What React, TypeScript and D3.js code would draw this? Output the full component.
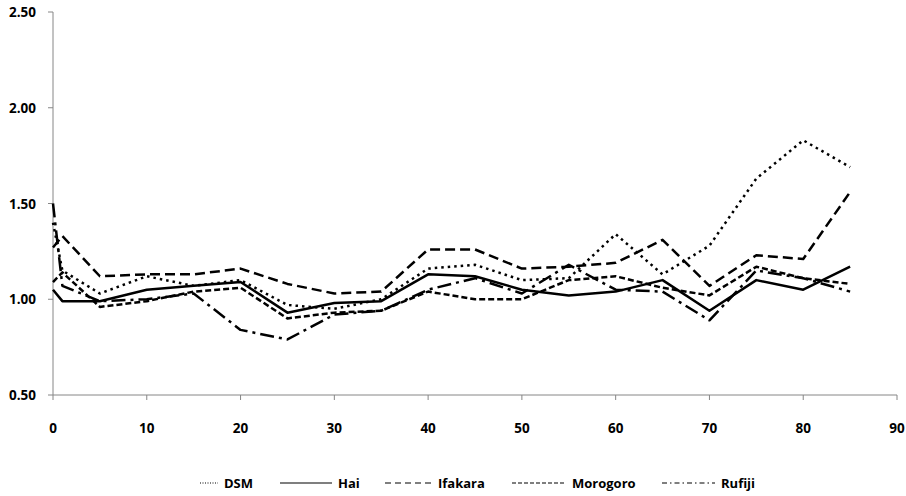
import React from "react";
import * as d3 from "d3";

// Age group start (years)
const ages = [0, 1, 5, 10, 15, 20, 25, 30, 35, 40, 45, 50, 55, 60, 65, 70, 75, 80, 85];

const dsm = [1.4, 1.15, 1.03, 1.12, 1.07, 1.1, 0.97, 0.95, 1.0, 1.16, 1.18, 1.1, 1.11, 1.34, 1.13, 1.28, 1.63, 1.83, 1.69];
const hai = [1.05, 0.99, 0.99, 1.05, 1.07, 1.09, 0.93, 0.98, 0.99, 1.13, 1.12, 1.05, 1.02, 1.04, 1.1, 0.94, 1.1, 1.05, 1.17];
const ifakara = [1.27, 1.33, 1.12, 1.13, 1.13, 1.16, 1.08, 1.03, 1.04, 1.26, 1.26, 1.16, 1.17, 1.19, 1.31, 1.07, 1.23, 1.21, 1.56];
const morogoro = [1.09, 1.14, 0.96, 0.99, 1.04, 1.06, 0.9, 0.93, 0.94, 1.04, 1.0, 1.0, 1.1, 1.12, 1.06, 1.02, 1.17, 1.11, 1.08];
const rufiji = [1.5, 1.07, 0.99, 1.0, 1.03, 0.84, 0.79, 0.92, 0.94, 1.05, 1.11, 1.03, 1.18, 1.05, 1.04, 0.89, 1.15, 1.11, 1.04];

const xTicks = [0, 10, 20, 30, 40, 50, 60, 70, 80, 90];
const yTicks = [0.5, 1.0, 1.5, 2.0, 2.5];

const seriesNames = ["DSM", "Hai", "Ifakara", "Morogoro", "Rufiji"];
const seriesValues = [dsm, hai, ifakara, morogoro, rufiji];

// Stroke styles per series: plot dash, legend dash
const plotDash = ["2.5 4", "none", "10 5", "6 3", "14 5 3 5"];
const legendDash = ["1 1.5", "none", "6 4", "4 2", "5 3 1.5 3"];
const legendLine = [
  [200, 218],
  [280, 332],
  [385, 432],
  [512, 566],
  [662, 715],
];

const W = 906;
const H = 496;
const FONT = "'Open Sans', 'Liberation Sans', sans-serif";
const AXIS = "#868686";

export default function App() {
  const x = d3.scaleLinear().domain([0, 90]).range([53, 897]);
  const y = d3.scaleLinear().domain([0.5, 2.5]).range([395, 12]);
  const line = d3
    .line<number>()
    .x((_, i) => x(ages[i]))
    .y((d) => y(d));

  return (
    <svg
      width={W}
      height={H}
      style={{ position: "absolute", left: 0, top: 0, background: "#fff" }}
      fontFamily={FONT}
    >
      <rect width={W} height={H} fill="#fff" />
      {/* axes */}
      <line x1={x(0)} x2={x(0)} y1={y(2.5)} y2={y(0.5)} stroke={AXIS} strokeWidth={1} />
      <line x1={x(0)} x2={x(90)} y1={y(0.5)} y2={y(0.5)} stroke={AXIS} strokeWidth={1} />
      {yTicks.map((t) => (
        <g key={"y" + t}>
          <line x1={x(0) - 5} x2={x(0)} y1={y(t)} y2={y(t)} stroke={AXIS} />
          <text
            x={36}
            y={y(t)}
            textAnchor="end"
            dominantBaseline="central"
            fontSize={13.5}
            fontWeight="bold"
            fill="#000"
          >
            {t.toFixed(2)}
          </text>
        </g>
      ))}
      {xTicks.map((t) => (
        <g key={"x" + t}>
          <line x1={x(t)} x2={x(t)} y1={y(0.5)} y2={y(0.5) + 5} stroke={AXIS} />
          <text
            x={x(t)}
            y={433}
            textAnchor="middle"
            fontSize={13.5}
            fontWeight="bold"
            fill="#000"
          >
            {t}
          </text>
        </g>
      ))}
      {/* series */}
      {seriesValues.map((vals, i) => (
        <path
          key={seriesNames[i]}
          d={line(vals) || ""}
          fill="none"
          stroke="#000"
          strokeWidth={2.5}
          strokeDasharray={plotDash[i]}
          strokeLinejoin="round"
        />
      ))}
      {/* legend */}
      {seriesNames.map((name, i) => (
        <g key={"lg" + name}>
          <line
            x1={legendLine[i][0]}
            x2={legendLine[i][1]}
            y1={483}
            y2={483}
            stroke="#000"
            strokeWidth={1.2}
            strokeDasharray={legendDash[i]}
          />
          <text
            x={legendLine[i][1] + 6}
            y={483}
            dominantBaseline="central"
            fontSize={13}
            fontWeight="bold"
            fill="#000"
          >
            {name}
          </text>
        </g>
      ))}
    </svg>
  );
}
